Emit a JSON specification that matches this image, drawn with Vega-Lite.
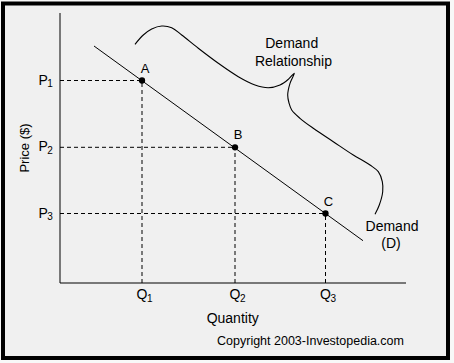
{
  "$schema": "https://vega.github.io/schema/vega-lite/v6.json",
  "width": 454,
  "height": 363,
  "padding": 0,
  "autosize": {"type": "none"},
  "background": "#f8f8f8",
  "config": {"view": {"stroke": null}, "text": {"font": "Liberation Sans", "color": "#000000"}},
  "datasets": {
    "points": [
      {"name": "A", "q": 82, "p": 202.5},
      {"name": "B", "q": 175, "p": 135.7},
      {"name": "C", "q": 265.5, "p": 69.5}
    ],
    "guides": [
      {"q": 0, "p": 202.5, "q2": 82, "p2": 202.5},
      {"q": 0, "p": 135.7, "q2": 175, "p2": 135.7},
      {"q": 0, "p": 69.5, "q2": 265.5, "p2": 69.5},
      {"q": 82, "p": 0, "q2": 82, "p2": 202.5},
      {"q": 175, "p": 0, "q2": 175, "p2": 135.7},
      {"q": 265.5, "p": 0, "q2": 265.5, "p2": 69.5}
    ],
    "ticklabels": [
      {"axis": "y", "main": "P", "sub": "1", "q": -21.5, "p": 202.5},
      {"axis": "y", "main": "P", "sub": "2", "q": -21.5, "p": 135.7},
      {"axis": "y", "main": "P", "sub": "3", "q": -21.5, "p": 69.5},
      {"axis": "x", "main": "Q", "sub": "1", "q": 82, "p": -15.5},
      {"axis": "x", "main": "Q", "sub": "2", "q": 175, "p": -15.5},
      {"axis": "x", "main": "Q", "sub": "3", "q": 265.5, "p": -15.5}
    ],
    "demand": [{"q": 34, "p": 237}, {"q": 303, "p": 42.3}],
    "axes": [
      {"q": 0, "p": 0, "q2": 0, "p2": 270},
      {"q": 0, "p": 0, "q2": 346, "p2": 0}
    ],
    "frame": [{"q": -57, "p": 279.5, "q2": 388, "p2": -75}],
    "brace": [
      {"o": 1, "q": 75, "p": 238.7},
      {"o": 2, "q": 83.3, "p": 248},
      {"o": 3, "q": 91.7, "p": 254},
      {"o": 4, "q": 101.7, "p": 257},
      {"o": 5, "q": 111.7, "p": 255.3},
      {"o": 6, "q": 121.7, "p": 248},
      {"o": 7, "q": 138.3, "p": 234.7},
      {"o": 8, "q": 158.3, "p": 219.7},
      {"o": 9, "q": 178.3, "p": 206.3},
      {"o": 10, "q": 195, "p": 198},
      {"o": 11, "q": 208.3, "p": 195.3},
      {"o": 12, "q": 220, "p": 198},
      {"o": 13, "q": 228.3, "p": 203.7},
      {"o": 14, "q": 234.3, "p": 209.7},
      {"o": 15, "q": 230, "p": 199.7},
      {"o": 16, "q": 227.7, "p": 188},
      {"o": 17, "q": 229, "p": 180},
      {"o": 18, "q": 231.7, "p": 173},
      {"o": 19, "q": 240, "p": 164.7},
      {"o": 20, "q": 253.3, "p": 154.7},
      {"o": 21, "q": 273.3, "p": 141.3},
      {"o": 22, "q": 293.3, "p": 128},
      {"o": 23, "q": 310, "p": 118},
      {"o": 24, "q": 318.3, "p": 111.3},
      {"o": 25, "q": 322.3, "p": 101.3},
      {"o": 26, "q": 322.7, "p": 91.3},
      {"o": 27, "q": 319.3, "p": 78},
      {"o": 28, "q": 315, "p": 68.7}
    ],
    "notes": [
      {"role": "note", "label": "Demand", "q": 231.7, "p": 235},
      {"role": "note", "label": "Relationship", "q": 233.5, "p": 217.3},
      {"role": "note", "label": "Demand", "q": 332, "p": 52},
      {"role": "note", "label": "(D)", "q": 331, "p": 35.3},
      {"role": "note", "label": "Quantity", "q": 172.7, "p": -40.3},
      {"role": "credit", "label": "Copyright 2003-Investopedia.com", "q": 250.5, "p": -62},
      {"role": "ytitle", "label": "Price ($)", "q": -31.5, "p": 135}
    ]
  },
  "layer": [
    {
      "data": {"name": "frame"},
      "mark": {"type": "rect", "fill": "#f0f0f0", "stroke": "#000000", "strokeWidth": 4},
      "encoding": {
        "x": {"field": "q", "type": "quantitative", "scale": {"domain": [-60, 394]}, "axis": null},
        "x2": {"field": "q2"},
        "y": {"field": "p", "type": "quantitative", "scale": {"domain": [-80, 283]}, "axis": null},
        "y2": {"field": "p2"}
      }
    },
    {
      "data": {"name": "axes"},
      "mark": {"type": "rule", "stroke": "#000000", "strokeWidth": 1},
      "encoding": {
        "x": {"field": "q", "type": "quantitative", "scale": {"domain": [-60, 394]}, "axis": null},
        "x2": {"field": "q2"},
        "y": {"field": "p", "type": "quantitative", "scale": {"domain": [-80, 283]}, "axis": null},
        "y2": {"field": "p2"}
      }
    },
    {
      "data": {"name": "guides"},
      "mark": {"type": "rule", "stroke": "#000000", "strokeWidth": 1, "strokeDash": [4, 3]},
      "encoding": {
        "x": {"field": "q", "type": "quantitative", "scale": {"domain": [-60, 394]}, "axis": null},
        "x2": {"field": "q2"},
        "y": {"field": "p", "type": "quantitative", "scale": {"domain": [-80, 283]}, "axis": null},
        "y2": {"field": "p2"}
      }
    },
    {
      "data": {"name": "demand"},
      "mark": {"type": "line", "stroke": "#000000", "strokeWidth": 1},
      "encoding": {
        "x": {"field": "q", "type": "quantitative", "scale": {"domain": [-60, 394]}, "axis": null},
        "y": {"field": "p", "type": "quantitative", "scale": {"domain": [-80, 283]}, "axis": null}
      }
    },
    {
      "data": {"name": "brace"},
      "mark": {"type": "line", "stroke": "#000000", "strokeWidth": 1.1, "interpolate": "catmull-rom"},
      "encoding": {
        "x": {"field": "q", "type": "quantitative", "scale": {"domain": [-60, 394]}, "axis": null},
        "y": {"field": "p", "type": "quantitative", "scale": {"domain": [-80, 283]}, "axis": null},
        "order": {"field": "o", "type": "quantitative"}
      }
    },
    {
      "data": {"name": "points"},
      "mark": {"type": "circle", "size": 40, "color": "#000000", "opacity": 1},
      "encoding": {
        "x": {"field": "q", "type": "quantitative", "scale": {"domain": [-60, 394]}, "axis": null},
        "y": {"field": "p", "type": "quantitative", "scale": {"domain": [-80, 283]}, "axis": null}
      }
    },
    {
      "data": {"name": "points"},
      "mark": {"type": "text", "fontSize": 13, "align": "center", "baseline": "alphabetic", "dx": 3, "dy": -8},
      "encoding": {
        "x": {"field": "q", "type": "quantitative", "scale": {"domain": [-60, 394]}, "axis": null},
        "y": {"field": "p", "type": "quantitative", "scale": {"domain": [-80, 283]}, "axis": null},
        "text": {"field": "name"}
      }
    },
    {
      "data": {"name": "ticklabels"},
      "transform": [{"filter": "datum.axis === 'y'"}],
      "mark": {"type": "text", "fontSize": 14, "align": "left", "baseline": "alphabetic", "dy": 4},
      "encoding": {
        "x": {"field": "q", "type": "quantitative", "scale": {"domain": [-60, 394]}, "axis": null},
        "y": {"field": "p", "type": "quantitative", "scale": {"domain": [-80, 283]}, "axis": null},
        "text": {"field": "main"}
      }
    },
    {
      "data": {"name": "ticklabels"},
      "transform": [{"filter": "datum.axis === 'y'"}],
      "mark": {"type": "text", "fontSize": 10, "align": "left", "baseline": "alphabetic", "dx": 8.7, "dy": 6.5},
      "encoding": {
        "x": {"field": "q", "type": "quantitative", "scale": {"domain": [-60, 394]}, "axis": null},
        "y": {"field": "p", "type": "quantitative", "scale": {"domain": [-80, 283]}, "axis": null},
        "text": {"field": "sub"}
      }
    },
    {
      "data": {"name": "ticklabels"},
      "transform": [{"filter": "datum.axis === 'x'"}],
      "mark": {"type": "text", "fontSize": 14, "align": "center", "baseline": "alphabetic"},
      "encoding": {
        "x": {"field": "q", "type": "quantitative", "scale": {"domain": [-60, 394]}, "axis": null},
        "y": {"field": "p", "type": "quantitative", "scale": {"domain": [-80, 283]}, "axis": null},
        "text": {"field": "main"}
      }
    },
    {
      "data": {"name": "ticklabels"},
      "transform": [{"filter": "datum.axis === 'x'"}],
      "mark": {"type": "text", "fontSize": 10, "align": "left", "baseline": "alphabetic", "dx": 5, "dy": 3.2},
      "encoding": {
        "x": {"field": "q", "type": "quantitative", "scale": {"domain": [-60, 394]}, "axis": null},
        "y": {"field": "p", "type": "quantitative", "scale": {"domain": [-80, 283]}, "axis": null},
        "text": {"field": "sub"}
      }
    },
    {
      "data": {"name": "notes"},
      "transform": [{"filter": "datum.role === 'note'"}],
      "mark": {"type": "text", "fontSize": 14, "align": "center", "baseline": "alphabetic"},
      "encoding": {
        "x": {"field": "q", "type": "quantitative", "scale": {"domain": [-60, 394]}, "axis": null},
        "y": {"field": "p", "type": "quantitative", "scale": {"domain": [-80, 283]}, "axis": null},
        "text": {"field": "label"}
      }
    },
    {
      "data": {"name": "notes"},
      "transform": [{"filter": "datum.role === 'credit'"}],
      "mark": {"type": "text", "fontSize": 12.5, "align": "center", "baseline": "alphabetic"},
      "encoding": {
        "x": {"field": "q", "type": "quantitative", "scale": {"domain": [-60, 394]}, "axis": null},
        "y": {"field": "p", "type": "quantitative", "scale": {"domain": [-80, 283]}, "axis": null},
        "text": {"field": "label"}
      }
    },
    {
      "data": {"name": "notes"},
      "transform": [{"filter": "datum.role === 'ytitle'"}],
      "mark": {"type": "text", "fontSize": 13, "align": "center", "baseline": "alphabetic", "angle": 270},
      "encoding": {
        "x": {"field": "q", "type": "quantitative", "scale": {"domain": [-60, 394]}, "axis": null},
        "y": {"field": "p", "type": "quantitative", "scale": {"domain": [-80, 283]}, "axis": null},
        "text": {"field": "label"}
      }
    }
  ]
}
